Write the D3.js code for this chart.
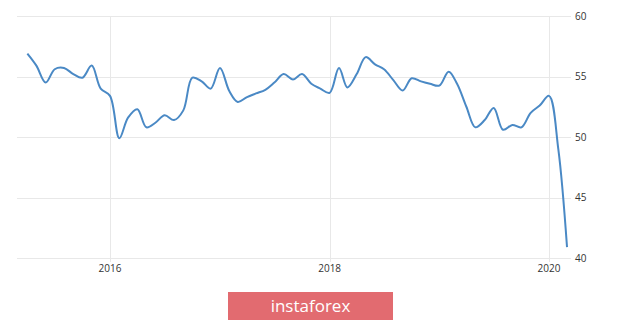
<!DOCTYPE html>
<html>
<head>
<meta charset="utf-8">
<script src="https://cdnjs.cloudflare.com/ajax/libs/d3/7.8.5/d3.min.js"></script>
<style>
  body { margin: 0; background: #fff; }
  svg { display: block; font-family: "Open Sans", sans-serif; }
</style>
</head>
<body>
<div id="graph"></div>
<script>
// monthly readings, Apr 2015 .. Mar 2020
var firstMonth = [2015, 3]
var values = [
  56.9, 55.9, 54.5, 55.6, 55.7, 55.2, 54.9, 55.9, 54.0,
  53.4, 49.9, 51.6, 52.3, 50.8, 51.2, 51.8, 51.4, 52.2, 54.9, 54.6, 54.0,
  55.7, 53.8, 52.9, 53.3, 53.6, 53.9, 54.5, 55.2, 54.75, 55.2, 54.4, 54.0,
  53.65, 55.7, 54.1, 55.2, 56.6, 56.0, 55.6, 54.7, 53.85, 54.85, 54.6, 54.4,
  54.25, 55.4, 54.4, 52.5, 50.8, 51.4, 52.4, 50.6, 51.0, 50.8, 52.0, 52.6,
  53.4, 49.0, 40.9
]
var yearTicks = [2016, 2018, 2020]
var yTicks = [40, 45, 50, 55, 60]

var data = values.map(function(v, i){
  return {date: new Date(firstMonth[0], firstMonth[1] + i, 1), value: v}
})

var width = 620, height = 321

var svg = d3.select('#graph').append('svg')
    .attr('width', width)
    .attr('height', height)

var x = d3.scaleTime()
    .domain([new Date(2016, 0, 1), new Date(2020, 0, 1)])
    .range([110, 549])

var y = d3.scaleLinear()
    .domain([40, 60])
    .range([258, 16])

// horizontal grid + right labels
svg.selectAll('line.hgrid').data(yTicks).enter().append('line')
    .attr('class', 'hgrid')
    .attr('x1', 17).attr('x2', 571)
    .attr('y1', function(d){ return Math.round(y(d)) + 0.5 })
    .attr('y2', function(d){ return Math.round(y(d)) + 0.5 })
    .attr('stroke', '#e8e8e8')

svg.selectAll('text.ylab').data(yTicks).enter().append('text')
    .attr('class', 'ylab')
    .attr('x', 575)
    .attr('y', function(d){ return y(d) })
    .attr('dy', '0.35em')
    .attr('font-size', 10)
    .attr('fill', '#333')
    .text(function(d){ return d })

// vertical grid + year labels
svg.selectAll('line.vgrid').data(yearTicks).enter().append('line')
    .attr('class', 'vgrid')
    .attr('x1', function(d){ return Math.round(x(new Date(d, 0, 1))) + 0.5 })
    .attr('x2', function(d){ return Math.round(x(new Date(d, 0, 1))) + 0.5 })
    .attr('y1', 16).attr('y2', 262)
    .attr('stroke', '#e8e8e8')

svg.selectAll('text.xlab').data(yearTicks).enter().append('text')
    .attr('class', 'xlab')
    .attr('x', function(d){ return x(new Date(d, 0, 1)) })
    .attr('y', 272)
    .attr('text-anchor', 'middle')
    .attr('font-size', 10)
    .attr('fill', '#333')
    .text(function(d){ return d })

var line = d3.line()
    .x(function(d){ return x(d.date) })
    .y(function(d){ return y(d.value) })
    .curve(d3.curveCatmullRom.alpha(0.5))

svg.append('path')
    .datum(data)
    .attr('d', line)
    .attr('fill', 'none')
    .attr('stroke', '#4a89c5')
    .attr('stroke-width', 2)
    .attr('stroke-linejoin', 'round')

// watermark badge
svg.append('rect')
    .attr('x', 228).attr('y', 292)
    .attr('width', 165).attr('height', 28)
    .attr('fill', '#e26b70')

svg.append('text')
    .attr('x', 310.5).attr('y', 312)
    .attr('text-anchor', 'middle')
    .attr('font-size', 17)
    .attr('fill', '#fff')
    .text('instaforex')
</script>
</body>
</html>
